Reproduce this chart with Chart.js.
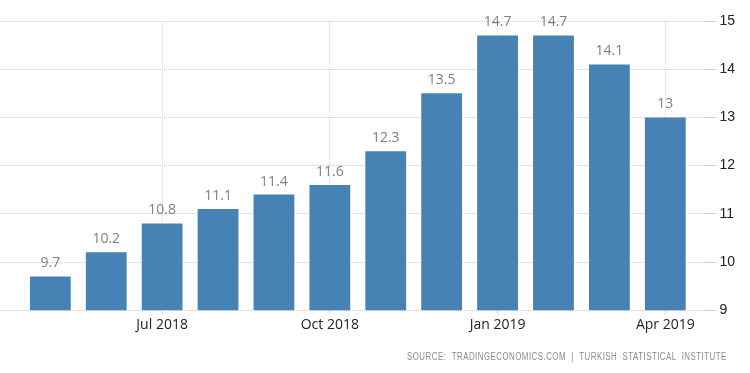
<!DOCTYPE html>
<html>
<head>
<meta charset="utf-8">
<script src="https://cdn.jsdelivr.net/npm/chart.js@4/dist/chart.umd.min.js"></script>
<style>
  html, body { margin: 0; padding: 0; background: #fff; }
  #wrap { position: relative; width: 750px; height: 373px; }
  #source {
    position: absolute; right: 23px; top: 351px;
    font: 10px "Liberation Sans", sans-serif; color: #8a8a8a; letter-spacing: 0.6px;
    white-space: nowrap; transform: scaleX(0.79); transform-origin: right center;
  }
</style>
</head>
<body>
<div id="wrap">
  <canvas id="chart" width="750" height="373"></canvas>
  <div id="source">SOURCE: &nbsp;TRADINGECONOMICS.COM &nbsp;| &nbsp;TURKISH &nbsp;STATISTICAL &nbsp;INSTITUTE</div>
</div>
<script>
const months = ["May 2018", "Jun 2018", "Jul 2018", "Aug 2018", "Sep 2018", "Oct 2018",
  "Nov 2018", "Dec 2018", "Jan 2019", "Feb 2019", "Mar 2019", "Apr 2019"];
const values = [9.7, 10.2, 10.8, 11.1, 11.4, 11.6, 12.3, 13.5, 14.7, 14.7, 14.1, 13];
const tickMonths = ["Jul 2018", "Oct 2018", "Jan 2019", "Apr 2019"];
const yTicks = [9, 10, 11, 12, 13, 14, 15];

const barColor = "rgb(70, 130, 180)";

const valueLabels = {
  id: "valueLabels",
  afterDatasetsDraw(chart) {
    const ctx = chart.ctx;
    const meta = chart.getDatasetMeta(0);
    ctx.save();
    ctx.font = "14px 'Open Sans', sans-serif";
    ctx.fillStyle = "#808080";
    ctx.textAlign = "center";
    ctx.textBaseline = "bottom";
    meta.data.forEach(function(bar, i) {
      ctx.fillText(String(values[i]), bar.x, bar.y - 6);
    });
    ctx.restore();
  }
};

window.onload = function() {
  const ctx = document.getElementById("chart").getContext("2d");
  new Chart(ctx, {
    type: "bar",
    data: {
      datasets: [{
        data: values.map((v, i) => ({ x: i, y: v })),
        backgroundColor: barColor,
        barPercentage: 0.73,
        categoryPercentage: 1
      }]
    },
    options: {
      responsive: false,
      animation: false,
      layout: { padding: { top: 21, left: 0, right: 12, bottom: 38 } },
      plugins: { legend: { display: false }, tooltip: { enabled: false } },
      scales: {
        x: {
          type: "linear",
          offset: false,
          min: -0.9,
          max: 11.7,
          afterBuildTicks(scale) {
            scale.ticks = tickMonths.map(m => ({ value: months.indexOf(m) }));
          },
          ticks: {
            autoSkip: false,
            maxRotation: 0,
            color: "#222",
            font: { family: "'Open Sans', sans-serif", size: 14 },
            padding: 2,
            callback: v => months[v]
          },
          grid: {
            offset: false,
            color: "#d8d8d8",
            tickColor: "#d8d8d8",
            tickLength: 4
          },
          border: { display: false, dash: [1, 1] }
        },
        y: {
          position: "right",
          min: 9,
          max: 15,
          afterBuildTicks(scale) {
            scale.ticks = yTicks.map(v => ({ value: v }));
          },
          ticks: {
            color: "#222",
            font: { family: "'Liberation Sans', sans-serif", size: 14 },
            padding: 3
          },
          grid: {
            color: "#d0d0d0",
            tickColor: "#d0d0d0",
            tickLength: 12
          },
          border: { display: false, dash: [1, 1] }
        }
      }
    },
    plugins: [valueLabels]
  });
};
</script>
</body>
</html>
